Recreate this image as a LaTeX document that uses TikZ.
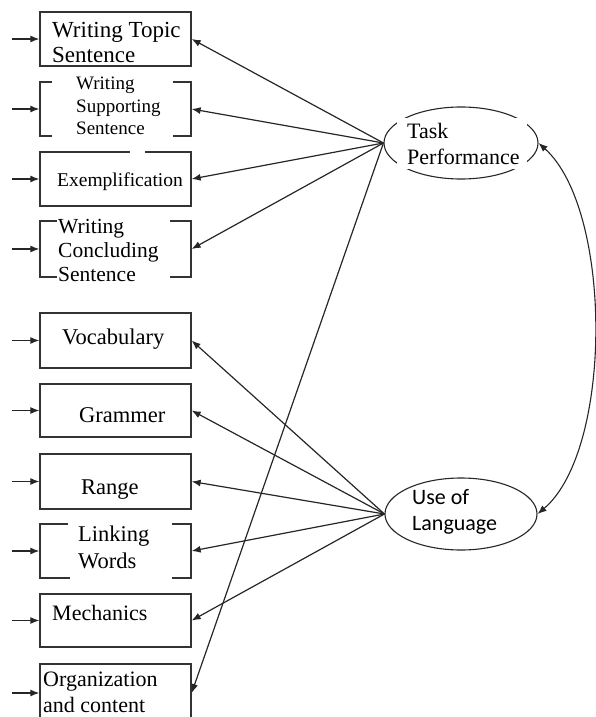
\documentclass[tikz,border=0pt]{standalone}
\usepackage{fontspec}
\setmainfont{Liberation Serif}
\newfontfamily\calfont{Carlito}
\usetikzlibrary{arrows.meta,shapes.geometric}
\begin{document}
\begin{tikzpicture}[x=1pt,y=-1pt,
  box/.style={draw=black!80,line width=1.3pt,minimum width=151pt,inner sep=0pt},
  lbl/.style={anchor=west,align=left,inner sep=0pt,text=black},
  lat/.style={draw=black!85,line width=1.1pt,ellipse,inner sep=0pt},
  con/.style={draw=black!85,line width=1.2pt,-{Latex[length=9pt,width=7pt]}},
  gap/.style={fill=white,draw=none}]
\useasboundingbox (0,0) rectangle (596,717);
% boxes
\node[box,minimum height=54pt] (b1) at (115.5,39) {};
\node[box,minimum height=54pt] (b2) at (115.5,109) {};
\node[box,minimum height=54pt] (b3) at (115.5,179) {};
\node[box,minimum height=56pt] (b4) at (115.5,249) {};
\node[box,minimum height=55pt] (b5) at (115.5,340.5) {};
\node[box,minimum height=53pt] (b6) at (115.5,410.5) {};
\node[box,minimum height=55pt] (b7) at (115.5,481.5) {};
\node[box,minimum height=54pt] (b8) at (115.5,551) {};
\node[box,minimum height=53pt] (b9) at (115.5,620.5) {};
\node[box,minimum height=58pt] (b10) at (115.5,693) {};
% gaps in borders
\fill[gap] (52,78) rectangle (173,86);
\fill[gap] (52,132) rectangle (173,140);
\fill[gap] (130,148) rectangle (145,156);
\fill[gap] (57,217) rectangle (170,225);
\fill[gap] (57,273) rectangle (170,281);
\fill[gap] (68,520) rectangle (172,528);
\fill[gap] (70,574) rectangle (172,582);
% box labels
\node[lbl,font=\fontsize{23}{25}\selectfont] (t1) at (52,42.5) {Writing Topic\\Sentence};
\node[lbl,font=\fontsize{19}{22.5}\selectfont] (t2) at (76,106) {Writing\\Supporting\\Sentence};
\node[lbl,font=\fontsize{19.5}{22}\selectfont] (t3) at (57,182) {Exemplification};
\node[lbl,font=\fontsize{21.5}{24}\selectfont] (t4) at (58,250) {Writing\\Concluding\\Sentence};
\node[lbl,font=\fontsize{22.5}{25}\selectfont] (t5) at (62,339) {Vocabulary};
\node[lbl,font=\fontsize{22.5}{25}\selectfont] (t6) at (79,415) {Grammer};
\node[lbl,font=\fontsize{22.5}{25}\selectfont] (t7) at (81,490) {Range};
\node[lbl,font=\fontsize{22.5}{27}\selectfont] (t8) at (78,547) {Linking\\Words};
\node[lbl,font=\fontsize{22}{25}\selectfont] (t9) at (52,613) {Mechanics};
\node[lbl,font=\fontsize{22}{26}\selectfont] (t10) at (43,692) {Organization\\and content};
% latent variables
\node[lat,minimum width=154pt,minimum height=72pt] (tp) at (461,143) {};
\fill[gap] (397,118) rectangle (527,169);
\node[lbl,font=\fontsize{22}{26}\selectfont] (tpt) at (407,144) {Task\\Performance};
\node[lat,minimum width=152pt,minimum height=72pt] (ul) at (461,514) {};
\node[lbl,font=\calfont\fontsize{22}{26}\selectfont] (ult) at (412,512) {Use of\\Language};
% error arrows
\foreach \i in {1,...,10} {
  \coordinate (e\i) at ([xshift=-27pt]b\i.west);
  \draw[con] (e\i) -- (b\i.west);
}
% loadings
\foreach \i in {1,2,3,4,10} { \draw[con] (tp.west) -- (b\i.east); }
\foreach \i in {5,...,9} { \draw[con] (ul.west) -- (b\i.east); }
% covariance
\draw[draw=black!85,line width=1.1pt,{Latex[length=9pt,width=7pt]}-{Latex[length=9pt,width=7pt]}]
  (tp.east) .. controls (613,210) and (613,450) .. (ul.east);
\end{tikzpicture}
\end{document}
